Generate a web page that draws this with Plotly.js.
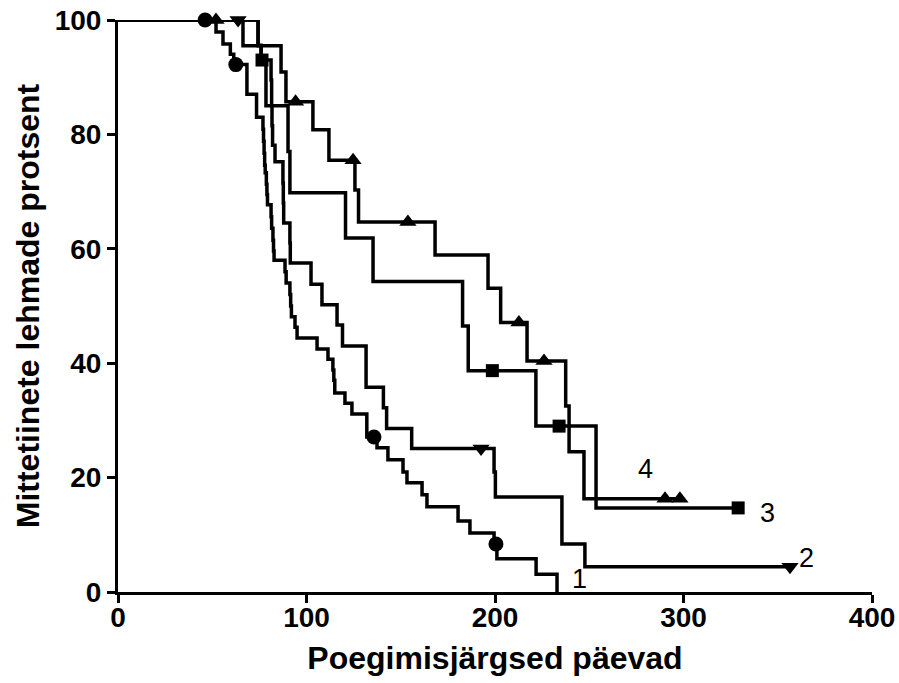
<!DOCTYPE html>
<html>
<head>
<meta charset="utf-8">
<script src="https://cdn.plot.ly/plotly-3.0.1.min.js"></script>
<style>html,body{margin:0;padding:0;background:#fff;}#chart{width:899px;height:683px;}</style>
</head>
<body>
<div id="chart"></div>
<script>
// Curve 1 (circles)
const g1Days = [0, 52.0, 55.7, 59.6, 61.4, 68.4, 73.5, 76.9, 77.2, 77.5, 77.8, 78.1, 78.7, 79.0, 79.3, 81.2, 81.5, 82.2, 82.5, 82.8, 88.6, 89.2, 91.2, 91.6, 92.0, 93.9, 95.0, 105.6, 111.4, 114.0, 114.5, 115.0, 120.4, 124.1, 132.0, 137.4, 143.2, 151.2, 153.3, 161.3, 163.9, 180.4, 186.7, 199.5, 201.0, 221.8, 232.9];
const g1Surv = [100, 97.9, 95.8, 94.0, 92.2, 87.0, 83.0, 80.9, 78.8, 76.7, 74.6, 73.3, 71.3, 69.5, 67.7, 65.6, 63.6, 61.5, 59.6, 58.0, 56.0, 54.0, 52.0, 50.0, 48.1, 46.3, 44.4, 42.5, 40.7, 38.8, 37.0, 34.8, 33.0, 31.1, 27.1, 25.2, 23.1, 21.0, 19.1, 17.0, 14.9, 12.4, 10.3, 8.4, 5.8, 3.1, 0];
const g1CensDays = [46.2, 62.5, 135.8, 200.5];
const g1CensSurv = [100, 92.2, 27.1, 8.4];

// Curve 2 (triangles down)
const g2Days = [0, 74.3, 75.9, 81.2, 81.5, 81.7, 82.0, 83.3, 87.5, 87.7, 87.9, 91.2, 91.4, 102.4, 108.2, 116.2, 119.1, 131.6, 140.8, 142.5, 155.8, 199.5, 200.2, 235.5, 247.7, 356.5];
const g2Surv = [100, 95.6, 93.0, 89.5, 85.0, 81.5, 78.1, 75.2, 71.5, 68.0, 64.5, 61.0, 57.5, 53.8, 50.2, 46.7, 43.0, 35.8, 32.2, 28.6, 25.1, 21.0, 16.6, 8.4, 4.4, 4.4];
const g2CensDays = [63.7, 192.6, 356.5];
const g2CensSurv = [100, 25.1, 4.4];

// Curve 3 (squares)
const g3Days = [0, 74.3, 75.9, 78.5, 90.2, 91.2, 120.7, 135.3, 182.8, 185.8, 221.7, 253.6, 329.0];
const g3Surv = [100, 95.5, 93.0, 85.0, 77.0, 69.8, 61.9, 54.3, 46.5, 38.7, 29.0, 14.7, 14.7];
const g3CensDays = [76.4, 198.6, 234.0, 329.0];
const g3CensSurv = [93.0, 38.7, 29.0, 14.7];

// Curve 4 (triangles up)
const g4Days = [0, 66.3, 86.5, 89.1, 103.4, 111.9, 125.7, 127.6, 168.2, 196.3, 203.0, 217.0, 237.5, 239.3, 247.2, 298.5];
const g4Surv = [100, 95.5, 90.9, 85.7, 80.8, 75.5, 70.3, 64.7, 58.9, 53.1, 47.1, 40.4, 32.5, 24.5, 16.3, 16.3];
const g4CensDays = [52.0, 94.2, 124.7, 153.8, 212.7, 226.0, 290.2, 298.1];
const g4CensSurv = [100, 85.7, 75.5, 64.7, 47.1, 40.4, 16.3, 16.3];

const groupLabels = ['1', '2', '3', '4'];
const xTicks = [0, 100, 200, 300, 400];
const yTicks = [0, 20, 40, 60, 80, 100];

const FONT = 'Liberation Sans, Arial, sans-serif';

function stepTrace(x, y) {
  return {x: x, y: y, mode: 'lines', line: {shape: 'hv', color: '#000', width: 3.5}, cliponaxis: false, showlegend: false, hoverinfo: 'skip'};
}
function markTrace(x, y, sym, size) {
  return {x: x, y: y, mode: 'markers', marker: {symbol: sym, color: '#000', size: size}, cliponaxis: false, showlegend: false, hoverinfo: 'skip'};
}

const data = [
  stepTrace(g1Days, g1Surv), stepTrace(g2Days, g2Surv), stepTrace(g3Days, g3Surv), stepTrace(g4Days, g4Surv),
  markTrace(g1CensDays, g1CensSurv, 'circle', 15),
  markTrace(g2CensDays, g2CensSurv, 'triangle-down', 15),
  markTrace(g3CensDays, g3CensSurv, 'square', 13),
  markTrace(g4CensDays, g4CensSurv, 'triangle-up', 15)
];

const labelPos = [[244.9, 2.2], [365.5, 5.9], [344.3, 13.8], [280.1, 21.5]];
const annotations = groupLabels.map((t, i) => ({
  x: labelPos[i][0], y: labelPos[i][1], xref: 'x', yref: 'y', text: t, showarrow: false,
  font: {family: FONT, size: 27, color: '#000'}
}));

const layout = {
  width: 899, height: 683,
  margin: {l: 118, r: 27, t: 20, b: 91},
  paper_bgcolor: '#fff', plot_bgcolor: '#fff',
  font: {family: FONT, color: '#000'},
  xaxis: {
    range: [0, 400], tickvals: xTicks, ticktext: xTicks.map(String),
    showgrid: false, zeroline: false, showline: true, linecolor: '#000', linewidth: 3,
    ticks: 'outside', ticklen: 8, tickwidth: 3, tickcolor: '#000', ticklabelstandoff: -10,
    tickfont: {size: 28, family: FONT, weight: 'bold'},
    title: {text: '<b>Poegimisjärgsed päevad</b>', font: {size: 32, family: FONT}, standoff: 16}
  },
  yaxis: {
    range: [0, 100], tickvals: yTicks, ticktext: yTicks.map(String),
    showgrid: false, zeroline: false, showline: true, linecolor: '#000', linewidth: 3,
    ticks: 'outside', ticklen: 8, tickwidth: 3, tickcolor: '#000',
    tickfont: {size: 28, family: FONT, weight: 'bold'},
    title: {text: '<b>Mittetiinete lehmade protsent</b>', font: {size: 32, family: FONT}, standoff: 6}
  },
  annotations: annotations
};

Plotly.newPlot('chart', data, layout, {displayModeBar: false, staticPlot: true});
</script>
</body>
</html>
